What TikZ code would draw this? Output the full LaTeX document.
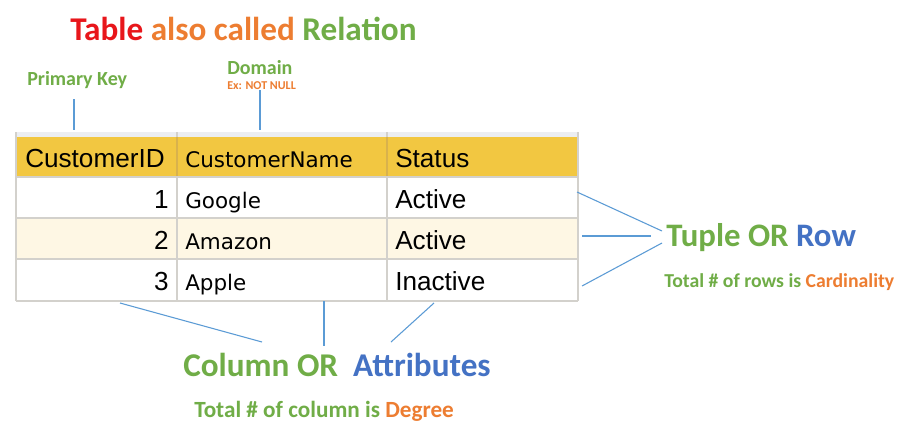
\documentclass[tikz,border=0pt]{standalone}
\usepackage{fontspec}
\setmainfont{Liberation Sans}
\newfontfamily\calib{Carlito}
\newfontfamily\dejavu{DejaVu Sans}
\definecolor{titlered}{HTML}{E8161B}
\definecolor{offorange}{HTML}{ED7D31}
\definecolor{offgreen}{HTML}{70AD47}
\definecolor{offblue}{HTML}{4472C4}
\definecolor{connblue}{HTML}{5B9BD5}
\definecolor{hdrfill}{HTML}{F2C741}
\definecolor{hdrline}{HTML}{D9B24C}
\definecolor{rowalt}{HTML}{FEF7E4}
\definecolor{gridgrey}{HTML}{D3D1CC}
\definecolor{stripgrey}{HTML}{ECEEF2}
\newcommand{\lfont}[1]{\calib\bfseries\fontsize{#1}{#1}\selectfont}
\begin{document}
\begin{tikzpicture}[x=0.75pt,y=-0.75pt,
  lbl/.style={inner sep=0pt, anchor=base west},
  tcell/.style={inner sep=0pt, anchor=base west, text=black, font=\fontsize{19.6}{22}\selectfont},
  ncell/.style={inner sep=0pt, anchor=base west, text=black, font=\dejavu\fontsize{16.1}{19}\selectfont},
  conn/.style={draw=connblue, line width=0.8pt},
  gridline/.style={draw=gridgrey, line width=1.5pt}]
\useasboundingbox (0,0) rectangle (910,426);
\fill[white] (0,0) rectangle (910,426);
% table background
\fill[stripgrey] (16,132) rectangle (578,137);
\fill[hdrfill] (16,137) rectangle (578,177);
\fill[rowalt] (16,218) rectangle (578,259);
\foreach \y in {177,218,259,301} \draw[gridline] (16,\y) -- (578,\y);
\foreach \x in {16,177,387,578} \draw[gridline] (\x,132) -- (\x,301);
\foreach \x in {177,387} \draw[draw=hdrline, line width=1.5pt] (\x,137) -- (\x,176);
% header
\node[tcell] (hid) at (25,167) {CustomerID};
\node[ncell] (hname) at (185,167) {CustomerName};
\node[tcell] (hstat) at (395,167) {Status};
% rows
\node[tcell, anchor=base east] (id1) at (169,208) {1};
\node[tcell, anchor=base east] (id2) at (169,249) {2};
\node[tcell, anchor=base east] (id3) at (169,290) {3};
\node[ncell] (nm1) at (185,208) {Google};
\node[ncell] (nm2) at (185,249) {Amazon};
\node[ncell] (nm3) at (185,290) {Apple};
\node[tcell] (st1) at (395,208) {Active};
\node[tcell] (st2) at (395,249) {Active};
\node[tcell] (st3) at (395,290) {Inactive};
% labels
\node[lbl, font=\lfont{24.9}] (title) at (70,40) {\textcolor{titlered}{Table} \textcolor{offorange}{also called} \textcolor{offgreen}{Relation}};
\node[lbl, font=\lfont{15}, text=offgreen] (pk) at (27,85) {Primary Key};
\node[lbl, font=\lfont{15}, text=offgreen] (dom) at (227,74) {Domain};
\node[lbl, font=\lfont{9}, text=offorange] (ex) at (227,89) {Ex: NOT NULL};
\node[lbl, font=\lfont{24.6}] (tuple) at (666,246) {\textcolor{offgreen}{Tuple OR} \textcolor{offblue}{Row}};
\node[lbl, font=\lfont{14.8}] (card) at (664,287) {\textcolor{offgreen}{Total \# of rows is} \textcolor{offorange}{Cardinality}};
\node[lbl, font=\lfont{24.9}] (colattr) at (183,376) {\textcolor{offgreen}{Column OR}\ \ \textcolor{offblue}{Attributes}};
\node[lbl, font=\lfont{17.4}] (deg) at (194,417) {\textcolor{offgreen}{Total \# of column is} \textcolor{offorange}{Degree}};
% connector end points
\coordinate (pkA) at (74,99);   \coordinate (pkB) at (74,130);
\coordinate (dmA) at (260,90);  \coordinate (dmB) at (260,130);
\coordinate (r1A) at (577,192); \coordinate (r1B) at (662,231);
\coordinate (r2A) at (582,236); \coordinate (r2B) at (651,236);
\coordinate (r3A) at (582,286); \coordinate (r3B) at (662,243);
\coordinate (c1A) at (120,303); \coordinate (c1B) at (262,342);
\coordinate (c2A) at (324,301); \coordinate (c2B) at (324,346);
\coordinate (c3A) at (434,303); \coordinate (c3B) at (391,342);
\draw[conn] (pkA) -- (pkB);
\draw[conn] (dmA) -- (dmB);
\draw[conn] (r1A) -- (r1B);
\draw[conn] (r2A) -- (r2B);
\draw[conn] (r3A) -- (r3B);
\draw[conn] (c1A) -- (c1B);
\draw[conn] (c2A) -- (c2B);
\draw[conn] (c3A) -- (c3B);
\end{tikzpicture}
\end{document}
